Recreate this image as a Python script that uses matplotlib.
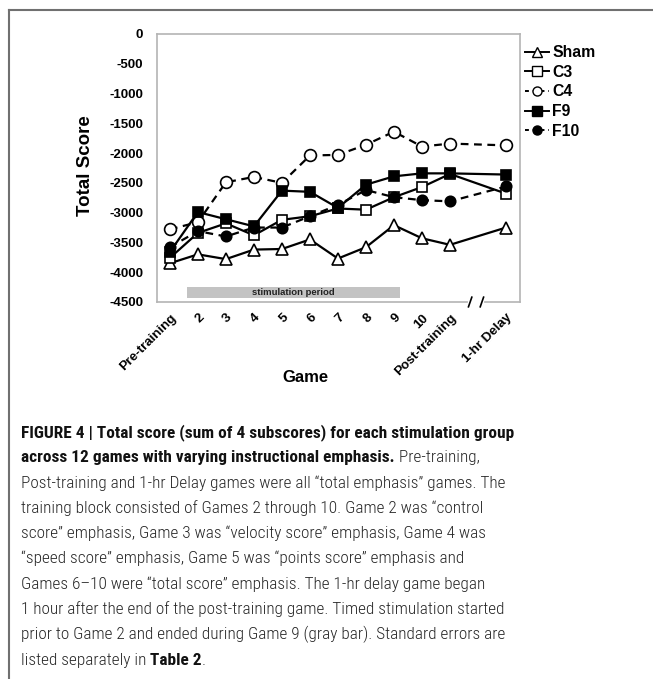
import matplotlib
matplotlib.use("Agg")
import matplotlib.pyplot as plt
from matplotlib.lines import Line2D
from matplotlib import font_manager as fm
import matplotlib.transforms as mtrans

# ---------------- data ----------------
games = ["Pre-training", "2", "3", "4", "5", "6", "7", "8", "9", "10",
         "Post-training", "1-hr Delay"]
game_pos = [0, 1, 2, 3, 4, 5, 6, 7, 8, 9, 10, 12]   # gap before the delayed game (axis break)

sham = [-3850, -3700, -3780, -3620, -3610, -3450, -3770, -3580, -3210, -3430, -3540, -3250]
c3   = [-3760, -3340, -3180, -3380, -3120, -3060, -2930, -2950, -2740, -2570, -2350, -2680]
c4   = [-3280, -3160, -2490, -2400, -2500, -2040, -2030, -1860, -1640, -1890, -1840, -1870]
f9   = [-3660, -2990, -3110, -3230, -2630, -2650, -2920, -2530, -2390, -2340, -2340, -2360]
f10  = [-3580, -3310, -3400, -3250, -3250, -3060, -2870, -2620, -2740, -2790, -2810, -2560]

series_names = ["Sham", "C3", "C4", "F9", "F10"]
yticks = [0, -500, -1000, -1500, -2000, -2500, -3000, -3500, -4000, -4500]
stim_start, stim_end = 0.6, 8.2
stim_label = "stimulation period"

caption_lines = [
    [("FIGURE 4 | Total score (sum of 4 subscores) for each stimulation group", True)],
    [("across 12 games with varying instructional emphasis.", True), (" Pre-training,", False)],
    [("Post-training and 1-hr Delay games were all \u201ctotal emphasis\u201d games. The", False)],
    [("training block consisted of Games 2 through 10. Game 2 was \u201ccontrol", False)],
    [("score\u201d emphasis, Game 3 was \u201cvelocity score\u201d emphasis, Game 4 was", False)],
    [("\u201cspeed score\u201d emphasis, Game 5 was \u201cpoints score\u201d emphasis and", False)],
    [("Games 6\u201310 were \u201ctotal score\u201d emphasis. The 1-hr delay game began", False)],
    [("1 hour after the end of the post-training game. Timed stimulation started", False)],
    [("prior to Game 2 and ended during Game 9 (gray bar). Standard errors are", False)],
    [("listed separately in ", False), ("Table 2", True), (".", False)],
]

# ---------------- figure ----------------
W, H = 653, 679
fig = plt.figure(figsize=(W / 100, H / 100), dpi=100)
plt.rcParams['font.family'] = ['Liberation Sans', 'DejaVu Sans']

ax = fig.add_axes([157 / W, 1 - 302 / H, (520 - 157) / W, (302 - 34) / H])

dash = (0, (3.5, 2.5))
styles = [
    dict(data=sham, marker='^', ls='-', mfc='white', ms=9),
    dict(data=c3, marker='s', ls='-', mfc='white', ms=7.5),
    dict(data=c4, marker='o', ls=dash, mfc='white', ms=8.5),
    dict(data=f9, marker='s', ls='-', mfc='black', ms=7.5),
    dict(data=f10, marker='o', ls=dash, mfc='black', ms=7.5),
]
for name, st in zip(series_names, styles):
    ax.plot(game_pos, st['data'], color='black', lw=1.6, ls=st['ls'],
            marker=st['marker'], mfc=st['mfc'], mec='black', mew=1.2,
            ms=st['ms'], label=name, zorder=3)

ax.set_xlim(-0.46, 12.5)
ax.set_ylim(-4500, 0)
ax.set_yticks(yticks)
ax.set_yticklabels([str(v) for v in yticks], fontsize=9.5, fontweight='bold')
ax.set_xticks(game_pos)
ax.set_xticklabels(games, fontsize=9.5, fontweight='bold', rotation=45,
                   ha='right', va='top', rotation_mode='anchor')
ax.tick_params(axis='both', length=0)
ax.tick_params(axis='y', pad=10)
ax.tick_params(axis='x', pad=7)
for s in ax.spines.values():
    s.set_color('#b4b4b4')
    s.set_linewidth(1.2)

# stimulation bar
ax.fill_between([stim_start, stim_end], -4440, -4250, color='#c3c3c3', lw=0, zorder=1)
ax.text((stim_start + stim_end) / 2, -4345, stim_label, ha='center', va='center',
        fontsize=6.8, fontweight='bold', color='#222222', zorder=2)

# axis break marks
trans = mtrans.blended_transform_factory(ax.transData, ax.transAxes)
ax.plot([10.72, 11.14], [0, 0], color='white', lw=3, transform=trans, clip_on=False, zorder=5)
for xb in (10.72, 11.14):
    ax.plot([xb - 0.06, xb + 0.06], [-0.018, 0.018], color='black', lw=1.2,
            transform=trans, clip_on=False, zorder=6)

fig.text(85 / W, 1 - 166 / H, "Total Score", rotation=90, ha='center', va='center',
         fontsize=13.5, fontweight='bold')
fig.text(305 / W, 1 - 377 / H, "Game", ha='center', va='center',
         fontsize=12, fontweight='bold')

# legend
handles = []
for name, st in zip(series_names, styles):
    handles.append(Line2D([], [], color='black', lw=1.4,
                          ls='-' if st['ls'] == '-' else (0, (2, 2)),
                          marker=st['marker'], mfc=st['mfc'], mec='black', mew=1.0,
                          ms=7 if st['marker'] == '^' else 6.5))
leg = fig.legend(handles, series_names, loc='upper left',
                 bbox_to_anchor=(525 / W, 1 - 45 / H), frameon=False,
                 prop=dict(family='Liberation Sans', weight='bold', size=11.3),
                 handlelength=1.55, handletextpad=0.2, labelspacing=0.3,
                 borderpad=0, borderaxespad=0)

# figure frame lines (top and left)
fig.add_artist(Line2D([9 / W, 1], [1 - 10 / H, 1 - 10 / H], color='#707070', lw=1.5,
                      transform=fig.transFigure))
fig.add_artist(Line2D([9 / W, 9 / W], [0, 1 - 10 / H], color='#707070', lw=1.5,
                      transform=fig.transFigure))

# caption
names = {f.name for f in fm.fontManager.ttflist}
cap_font = 'Roboto Condensed' if 'Roboto Condensed' in names else 'Liberation Sans'
cap_fam = [cap_font, 'DejaVu Sans']
fig.canvas.draw()
r = fig.canvas.get_renderer()

# fit font size so that line 3 spans the same width as in the reference
probe = fig.text(0, 0, caption_lines[2][0][0], fontsize=12, family=cap_fam, fontweight='light')
pw = probe.get_window_extent(r).width
probe.remove()
cap_size = 12 * (484 / pw)

x0 = 21
for i, segs in enumerate(caption_lines):
    yb = 437 + i * 25.3
    x = x0
    for txt, bold in segs:
        t = fig.text(x / W, 1 - yb / H, txt, fontsize=cap_size,
                     fontweight='bold' if bold else 'light',
                     family=cap_fam, color='#111111' if bold else '#262626',
                     ha='left', va='baseline')
        x += t.get_window_extent(r).width

fig.savefig("out.png", dpi=100)
